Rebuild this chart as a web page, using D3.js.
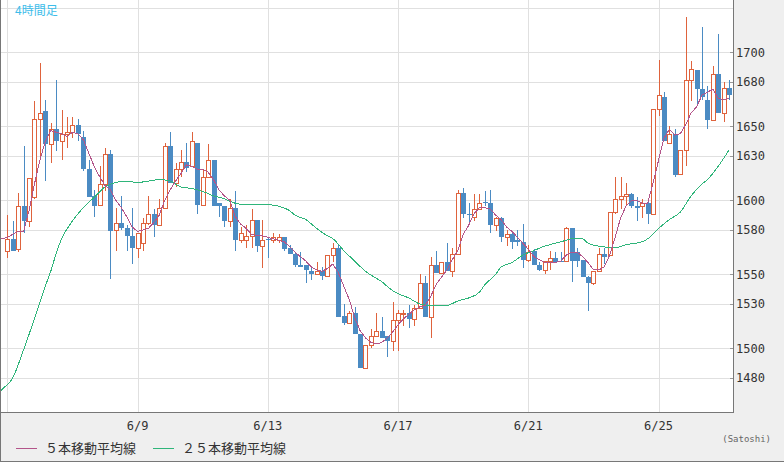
<!DOCTYPE html>
<html>
<head>
<meta charset="utf-8">
<script src="https://cdn.jsdelivr.net/npm/d3@7"></script>
<style>
  body { margin: 0; background: #efefef; }
  svg { display: block; }
</style>
</head>
<body>
<div id="chart"></div>
<script>
// 4h candles, first one is 6/5 00:00
const firstCandle = new Date(2018, 5, 5, 0, 0);

const opens = [
  1566, 1574, 1567, 1596, 1586, 1602, 1655, 1660, 1638, 1648,
  1640, 1645, 1646, 1651, 1643, 1621, 1603, 1597, 1611, 1631,
  1580, 1585, 1581, 1576, 1568, 1571, 1585, 1591, 1583, 1595,
  1637, 1612, 1621, 1626, 1623, 1639, 1597, 1616, 1627, 1598,
  1596, 1586, 1595, 1573, 1573, 1576, 1587, 1569, 1574, 1573,
  1573, 1575, 1568, 1564, 1556, 1556, 1552, 1550, 1552, 1549,
  1563, 1568, 1522, 1517, 1524, 1510, 1487, 1502, 1508, 1512,
  1508, 1505, 1519, 1523, 1524, 1520, 1527, 1544, 1521, 1556,
  1551, 1558, 1552, 1564, 1605, 1591, 1589, 1594, 1599, 1598,
  1583, 1588, 1575, 1577, 1573, 1572, 1560, 1566, 1556, 1553,
  1559, 1561, 1559, 1559, 1581, 1565, 1560, 1548, 1544, 1552,
  1564, 1563, 1592, 1601, 1603, 1604, 1596, 1596, 1598, 1591,
  1662, 1670, 1639, 1645, 1618, 1634, 1681, 1688, 1675, 1668,
  1654, 1685, 1659, 1676
];
const highs = [
  1590, 1586, 1605, 1637, 1615, 1667, 1693, 1668, 1652, 1681,
  1661, 1656, 1656, 1655, 1647, 1627, 1607, 1623, 1635, 1634,
  1595, 1603, 1583, 1595, 1578, 1588, 1603, 1594, 1601, 1639,
  1646, 1625, 1634, 1639, 1646, 1639, 1621, 1638, 1627, 1598,
  1596, 1601, 1606, 1582, 1583, 1594, 1587, 1587, 1575, 1578,
  1577, 1575, 1570, 1565, 1565, 1556, 1555, 1558, 1555, 1563,
  1571, 1570, 1530, 1525, 1528, 1510, 1502, 1513, 1524, 1521,
  1508, 1531, 1526, 1526, 1529, 1529, 1550, 1549, 1562, 1566,
  1558, 1571, 1568, 1607, 1608, 1598, 1604, 1604, 1606, 1607,
  1589, 1589, 1580, 1579, 1580, 1584, 1570, 1567, 1558, 1559,
  1566, 1565, 1565, 1582, 1581, 1568, 1560, 1549, 1552, 1568,
  1568, 1592, 1616, 1616, 1612, 1605, 1602, 1601, 1601, 1662,
  1695, 1673, 1650, 1648, 1634, 1724, 1694, 1688, 1717, 1677,
  1691, 1712, 1680, 1681
];
const lows = [
  1561, 1566, 1565, 1578, 1582, 1601, 1627, 1613, 1625, 1633,
  1627, 1635, 1642, 1640, 1620, 1602, 1589, 1597, 1606, 1547,
  1566, 1580, 1566, 1557, 1561, 1566, 1583, 1575, 1583, 1595,
  1612, 1609, 1616, 1619, 1623, 1591, 1597, 1616, 1596, 1589,
  1582, 1582, 1566, 1571, 1568, 1568, 1565, 1554, 1561, 1571,
  1571, 1566, 1564, 1555, 1555, 1544, 1546, 1550, 1546, 1549,
  1558, 1521, 1516, 1517, 1510, 1487, 1486, 1500, 1508, 1507,
  1494, 1498, 1498, 1515, 1514, 1515, 1527, 1521, 1507, 1551,
  1550, 1552, 1548, 1564, 1588, 1583, 1586, 1594, 1596, 1578,
  1579, 1572, 1569, 1567, 1569, 1554, 1558, 1556, 1552, 1550,
  1553, 1558, 1558, 1559, 1545, 1555, 1548, 1525, 1543, 1552,
  1557, 1563, 1591, 1594, 1596, 1595, 1586, 1588, 1584, 1591,
  1657, 1640, 1639, 1616, 1618, 1623, 1667, 1664, 1668, 1648,
  1654, 1659, 1653, 1668
];
const closes = [
  1574, 1566, 1596, 1586, 1615, 1655, 1659, 1638, 1648, 1640,
  1645, 1646, 1651, 1645, 1621, 1602, 1596, 1611, 1631, 1579,
  1585, 1581, 1576, 1568, 1578, 1585, 1591, 1583, 1595, 1637,
  1612, 1621, 1626, 1622, 1640, 1597, 1616, 1627, 1596, 1596,
  1586, 1595, 1573, 1578, 1576, 1587, 1569, 1573, 1573, 1575,
  1575, 1567, 1564, 1556, 1555, 1553, 1550, 1552, 1549, 1563,
  1568, 1521, 1517, 1524, 1510, 1487, 1502, 1508, 1512, 1507,
  1505, 1519, 1524, 1524, 1520, 1527, 1544, 1521, 1556, 1551,
  1558, 1552, 1564, 1605, 1591, 1590, 1594, 1598, 1598, 1583,
  1588, 1575, 1577, 1572, 1572, 1560, 1565, 1556, 1553, 1559,
  1561, 1558, 1558, 1581, 1559, 1559, 1548, 1544, 1552, 1564,
  1562, 1592, 1601, 1603, 1604, 1596, 1595, 1598, 1591, 1662,
  1671, 1640, 1645, 1617, 1634, 1681, 1689, 1675, 1670, 1654,
  1685, 1659, 1676, 1671
];

// 5-period MA, starting two candles before the first visible one
const ma5Start = -2;
const ma5 = [
  1573, 1574,
  1575, 1577, 1579, 1579, 1593, 1611, 1627, 1640, 1647, 1646,
  1645, 1643, 1646, 1645, 1641, 1632, 1623, 1616, 1610, 1607,
  1600, 1595, 1589, 1582, 1579, 1580, 1581, 1585, 1590, 1600,
  1607, 1613, 1618, 1624, 1623, 1621, 1621, 1619, 1614, 1607,
  1603, 1600, 1589, 1584, 1581, 1577, 1576, 1576, 1575, 1574,
  1573, 1572, 1569, 1565, 1562, 1559, 1555, 1553, 1552, 1554,
  1557, 1551, 1542, 1533, 1521, 1512, 1507, 1504, 1503, 1504,
  1507, 1511, 1516, 1520, 1523, 1526, 1528, 1529, 1535, 1543,
  1548, 1553, 1560, 1566, 1577, 1583, 1591, 1595, 1595, 1594,
  1590, 1587, 1582, 1579, 1575, 1571, 1567, 1562, 1560, 1558,
  1558, 1558, 1559, 1563, 1565, 1565, 1562, 1558, 1553, 1553,
  1555, 1563, 1575, 1588, 1596, 1600, 1600, 1598, 1598, 1612,
  1627, 1642, 1648, 1644, 1645, 1651, 1659, 1663, 1671, 1673,
  1675, 1669, 1668, 1669
];

// 25-period MA, read at these candle indexes
const ma25Idx = [
  -2, -1, 1, 3, 5, 7, 8, 9, 10, 12, 14, 16, 18, 20, 22, 24, 26, 28, 30, 32,
  34, 36, 38, 40, 42, 44, 46, 48, 50, 52, 53, 55, 57, 59, 60, 62, 64, 66, 69, 71,
  72, 74, 76, 78, 81, 83, 85, 87, 88, 90, 91, 93, 95, 97, 99, 101, 103, 104, 106, 107,
  109, 112, 114, 117, 118, 120, 122, 124, 126, 128, 129, 131, 133
];
const ma25Val = [
  1467, 1472, 1480, 1499, 1520, 1542, 1552, 1564, 1574, 1586, 1595, 1602, 1609, 1612, 1613, 1612, 1613, 1614, 1613, 1609,
  1608, 1606, 1603, 1601, 1598, 1597, 1597, 1597, 1596, 1593, 1590, 1587, 1581, 1576, 1574, 1566, 1559, 1552, 1545, 1539,
  1537, 1534, 1530, 1529, 1529, 1532, 1534, 1538, 1543, 1550, 1555, 1558, 1563, 1566, 1569, 1571, 1573, 1574, 1574, 1571,
  1569, 1568, 1570, 1572, 1574, 1581, 1587, 1592, 1603, 1611, 1614, 1623, 1634
];

const yLabels = [1480, 1500, 1530, 1550, 1580, 1600, 1630, 1650, 1680, 1700];
const yGrid = yLabels.concat([1730]);

const width = 784, height = 462;
const plotW = 733, plotH = 412;
const HOUR = 3600 * 1000;

const candleTime = i => new Date(firstCandle.getTime() + i * 4 * HOUR);

const x = d3.scaleTime()
  .domain([candleTime(-1.345), candleTime(133.72)])
  .range([0, plotW]);

const y = d3.scaleLinear()
  .domain([1457.0, 1735.3])
  .range([plotH, 0]);

const upColor = '#df633d';
const downColor = '#4b8bc3';

const svg = d3.select('#chart')
  .append('svg')
  .attr('width', width)
  .attr('height', height);

svg.append('rect')
  .attr('width', width)
  .attr('height', height)
  .attr('fill', '#efefef');

svg.append('defs').append('clipPath')
  .attr('id', 'plot-clip')
  .append('rect')
  .attr('x', 1)
  .attr('y', 0)
  .attr('width', plotW - 1)
  .attr('height', plotH);

svg.append('rect')
  .attr('width', plotW)
  .attr('height', plotH)
  .attr('fill', '#fff');

const plot = svg.append('g').attr('clip-path', 'url(#plot-clip)');

// grid
const dayTicks = x.ticks(d3.timeDay.every(4));

plot.append('g')
  .selectAll('line')
  .data(dayTicks)
  .enter().append('line')
  .attr('x1', d => Math.round(x(d)) + 0.5)
  .attr('x2', d => Math.round(x(d)) + 0.5)
  .attr('y1', 0)
  .attr('y2', plotH)
  .attr('stroke', '#e0e0e0');

plot.append('g')
  .selectAll('line')
  .data(yGrid)
  .enter().append('line')
  .attr('x1', 0)
  .attr('x2', plotW)
  .attr('y1', d => Math.round(y(d)) + 0.5)
  .attr('y2', d => Math.round(y(d)) + 0.5)
  .attr('stroke', '#e0e0e0');

// candles
const candles = closes.map((c, i) => ({
  t: candleTime(i), o: opens[i], h: highs[i], l: lows[i], c: c
}));

const cg = plot.append('g')
  .attr('shape-rendering', 'crispEdges')
  .selectAll('g')
  .data(candles)
  .enter().append('g');

cg.append('line')
  .attr('x1', d => Math.round(x(d.t)) + 0.5)
  .attr('x2', d => Math.round(x(d.t)) + 0.5)
  .attr('y1', d => Math.round(y(d.h)))
  .attr('y2', d => Math.round(y(d.l)))
  .attr('stroke', d => d.c >= d.o ? upColor : downColor);

cg.filter(d => d.c >= d.o)
  .append('rect')
  .attr('x', d => Math.round(x(d.t)) - 1.5)
  .attr('y', d => Math.round(y(d.c)) + 0.5)
  .attr('width', 4)
  .attr('height', d => Math.max(0, Math.round(y(d.o)) - Math.round(y(d.c))))
  .attr('fill', '#fff')
  .attr('stroke', upColor);

cg.filter(d => d.c < d.o)
  .append('rect')
  .attr('x', d => Math.round(x(d.t)) - 2)
  .attr('y', d => Math.round(y(d.o)))
  .attr('width', 5)
  .attr('height', d => Math.max(1, Math.round(y(d.c)) - Math.round(y(d.o))))
  .attr('fill', downColor);

// moving averages
const ma5Points = ma5.map((v, k) => ({ t: candleTime(k + ma5Start), v: v }));
const ma25Points = ma25Idx.map((k, n) => ({ t: candleTime(k), v: ma25Val[n] }));

plot.append('path')
  .datum(ma25Points)
  .attr('d', d3.line().x(d => x(d.t)).y(d => y(d.v)).curve(d3.curveMonotoneX))
  .attr('fill', 'none')
  .attr('stroke', '#2fb57a')
  .attr('stroke-width', 1)
  .attr('shape-rendering', 'crispEdges');

plot.append('path')
  .datum(ma5Points)
  .attr('d', d3.line().x(d => x(d.t)).y(d => y(d.v)))
  .attr('fill', 'none')
  .attr('stroke', '#b3558a')
  .attr('stroke-width', 1)
  .attr('shape-rendering', 'crispEdges');

// frame
const frame = svg.append('g').attr('stroke', '#777').attr('shape-rendering', 'crispEdges');
frame.append('line').attr('x1', 0.5).attr('x2', 0.5).attr('y1', 0).attr('y2', height);
frame.append('line').attr('x1', 0).attr('x2', plotW).attr('y1', plotH + 0.5).attr('y2', plotH + 0.5);
frame.append('line').attr('x1', plotW + 0.5).attr('x2', plotW + 0.5).attr('y1', 0).attr('y2', plotH + 1);
frame.append('line').attr('x1', 0).attr('x2', width).attr('y1', height - 0.5).attr('y2', height - 0.5);

// right axis
const yAxis = svg.append('g');
yAxis.selectAll('line')
  .data(yLabels)
  .enter().append('line')
  .attr('x1', plotW - 3)
  .attr('x2', plotW)
  .attr('y1', d => Math.round(y(d)) + 0.5)
  .attr('y2', d => Math.round(y(d)) + 0.5)
  .attr('stroke', '#999');

yAxis.selectAll('text')
  .data(yLabels)
  .enter().append('text')
  .attr('x', plotW + 3)
  .attr('y', d => y(d))
  .attr('dy', '0.36em')
  .attr('font-family', '"DejaVu Sans Mono", monospace')
  .attr('font-size', 12)
  .attr('fill', '#333')
  .text(d => d);

// bottom axis
svg.append('g')
  .selectAll('text')
  .data(dayTicks.filter(d => x(d) > 30))
  .enter().append('text')
  .attr('x', d => x(d))
  .attr('y', 430)
  .attr('text-anchor', 'middle')
  .attr('font-family', '"DejaVu Sans Mono", monospace')
  .attr('font-size', 12)
  .attr('fill', '#333')
  .text(d => d3.timeFormat('%-m/%-d')(d));

svg.append('text')
  .attr('x', 771)
  .attr('y', 442)
  .attr('text-anchor', 'end')
  .attr('font-family', '"DejaVu Sans Mono", monospace')
  .attr('font-size', 9)
  .attr('fill', '#666')
  .text('(Satoshi)');

svg.append('text')
  .attr('x', 15)
  .attr('y', 15)
  .attr('font-family', '"Noto Sans CJK JP", sans-serif')
  .attr('font-size', 12)
  .attr('fill', '#3dbdea')
  .text('4時間足');

// legend
const legend = [
  { label: '５本移動平均線', color: '#b3558a', x: 16 },
  { label: '２５本移動平均線', color: '#2fb57a', x: 153 }
];
const lg = svg.append('g')
  .selectAll('g')
  .data(legend)
  .enter().append('g')
  .attr('transform', d => `translate(${d.x},448)`);

lg.append('line')
  .attr('x1', 0)
  .attr('x2', 21)
  .attr('y1', 0.5)
  .attr('y2', 0.5)
  .attr('stroke', d => d.color);

lg.append('text')
  .attr('x', 29)
  .attr('y', 5)
  .attr('font-family', '"Noto Sans CJK JP", sans-serif')
  .attr('font-size', 13)
  .attr('fill', '#333')
  .text(d => d.label);
</script>
</body>
</html>
